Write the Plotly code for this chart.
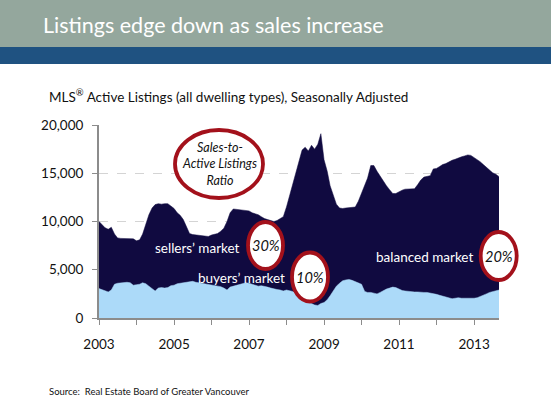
import pandas as pd
import plotly.graph_objects as go

# Monthly data, Jan 2003 - Sep 2013
months = pd.date_range("2003-01-01", "2013-09-01", freq="MS")

active_listings = [
    10000, 9700, 9350, 9200, 9400, 8700, 8300, 8250, 8250, 8250, 8250, 8200,  # 2003
    8000, 8100, 8700, 9700, 10700, 11400, 11750, 11850, 11800, 11850, 11850, 11600,  # 2004
    11350, 10900, 10650, 10200, 9400, 8750, 8650, 8600, 8600, 8550, 8500, 8450,  # 2005
    8600, 8700, 8750, 9000, 9300, 10000, 10900, 11300, 11250, 11200, 11200, 11150,  # 2006
    11100, 10900, 10800, 10700, 10500, 10300, 10200, 10100, 10000, 10100, 10300, 10500,  # 2007
    11500, 12700, 14000, 15300, 16400, 17400, 17700, 17300, 17900, 17500, 18000, 19100,  # 2008
    16400, 15200, 13700, 12600, 11800, 11400, 11350, 11400, 11450, 11500, 11500, 12100,  # 2009
    12900, 13700, 14500, 15800, 15800, 15200, 14700, 14100, 13700, 13300, 12900, 12900,  # 2010
    13100, 13250, 13350, 13380, 13350, 13400, 13800, 14300, 14600, 14650, 14750, 15450,  # 2011
    15500, 15700, 15900, 16000, 16200, 16350, 16450, 16600, 16700, 16800, 16900, 16850,  # 2012
    16650, 16450, 16200, 15900, 15600, 15250, 15050, 14900, 14650,  # 2013
]

sales = [
    3050, 2950, 2850, 2700, 2900, 3500, 3600, 3650, 3650, 3700, 3650, 3400,
    3450, 3500, 3650, 3550, 3300, 3000, 2800, 3100, 3150, 3100, 3150, 3350,
    3400, 3550, 3600, 3700, 3750, 3800, 3800, 3700, 3650, 3600, 3550, 3500,
    3450, 3350, 3300, 3250, 3100, 2900, 3200, 3300, 3400, 3450, 3550, 3650,
    3600, 3500, 3400, 3300, 3350, 3300, 3200, 3100, 3000, 2950, 2900, 2800,
    2900, 2850, 2750, 2600, 2400, 2200, 2000, 1800, 1500, 1350, 1300, 1500,
    1600, 1900, 2300, 2800, 3300, 3600, 3850, 3950, 4000, 3900, 3750, 3600,
    3500, 2750, 2650, 2650, 2600, 2500, 2650, 2850, 3000, 3100, 3200, 3150,
    3000, 2850, 2800, 2750, 2750, 2700, 2700, 2650, 2650, 2650, 2600, 2550,
    2450, 2350, 2250, 2150, 2050, 2000, 2050, 2100, 2050, 2050, 2000, 2000,
    2050, 2100, 2200, 2350, 2500, 2650, 2750, 2850, 2900,
]

year_ticks = ["2003-01-01", "2005-01-01", "2007-01-01", "2009-01-01", "2011-01-01", "2013-01-01"]
year_labels = ["2003", "2005", "2007", "2009", "2011", "2013"]

# ratio bubbles: label, sales-to-active ratio
market_labels = ["sellers\u2019 market", "buyers\u2019 market", "balanced market"]
market_ratios = ["30%", "10%", "20%"]

W, H = 551, 409
PL, PR, PT, PB = 99, 499, 125, 318
FONT = "Lato"


def px(x):
    return (x - PL) / (PR - PL)


def py(y):
    return (PB - y) / (PB - PT)


fig = go.Figure()
fig.add_trace(go.Scatter(
    x=months, y=active_listings, mode="lines", fill="tozeroy",
    line=dict(color="#100a40", width=0.5), fillcolor="#100a40",
    hoverinfo="x+y",
))
fig.add_trace(go.Scatter(
    x=months, y=sales, mode="lines", fill="tozeroy",
    line=dict(color="#acdaf9", width=0.5), fillcolor="#acdaf9",
    hoverinfo="x+y",
))

shapes = [
    # header bands
    dict(type="rect", xref="paper", yref="paper", x0=px(0), x1=px(W), y0=py(47), y1=py(0),
         fillcolor="#94a79d", line_width=0, layer="above"),
    dict(type="rect", xref="paper", yref="paper", x0=px(0), x1=px(W), y0=py(64), y1=py(47),
         fillcolor="#1f5281", line_width=0, layer="above"),
]

# ellipses (cx, cy, rx, ry) in pixels
bubbles = [(219, 164, 44, 34), (265.5, 245.5, 17.5, 23.5), (310, 277, 18, 24.5), (498.7, 256, 18, 24)]
for cx, cy, rx, ry in bubbles:
    shapes.append(dict(type="circle", xref="paper", yref="paper",
                       x0=px(cx - rx), x1=px(cx + rx), y0=py(cy + ry), y1=py(cy - ry),
                       fillcolor="white", line=dict(color="#a3111b", width=3.8), layer="above"))

annotations = [
    dict(text="Listings edge down as sales increase", x=px(41), y=py(25), xanchor="left", yanchor="middle",
         font=dict(family=FONT, size=21.5, color="white")),
    dict(text="MLS<sup>\u00ae</sup> Active Listings (all dwelling types), Seasonally Adjusted",
         x=px(47), y=py(96), xanchor="left", yanchor="middle",
         font=dict(family=FONT, size=13.5, color="#111111")),
    dict(text="Source:  Real Estate Board of Greater Vancouver", x=px(47), y=py(391),
         xanchor="left", yanchor="middle", font=dict(family=FONT, size=9.5, color="#111111")),
    dict(text="<i>Sales-to-<br>Active Listings<br>Ratio</i>", x=px(219), y=py(164),
         xanchor="center", yanchor="middle", font=dict(family=FONT, size=12.5, color="#111111")),
]
for (cx, cy, rx, ry), r in zip(bubbles[1:], market_ratios):
    annotations.append(dict(text=f"<i>{r}</i>", x=px(cx), y=py(cy), xanchor="center", yanchor="middle",
                            font=dict(family=FONT, size=14.5, color="#111111")))
for lab, (xr, yc) in zip(market_labels, [(242, 248), (287, 278), (475, 257)]):
    annotations.append(dict(text=lab, x=px(xr), y=py(yc), xanchor="right", yanchor="middle",
                            font=dict(family=FONT, size=13.5, color="white")))
for a in annotations:
    a.update(xref="paper", yref="paper", showarrow=False)

fig.update_layout(
    width=W, height=H,
    margin=dict(l=PL, r=W - PR, t=PT, b=H - PB),
    paper_bgcolor="white", plot_bgcolor="white",
    showlegend=False,
    shapes=shapes, annotations=annotations,
    font=dict(family=FONT, size=13, color="#111111"),
)
fig.update_xaxes(
    type="date", range=[months[0], months[-1]],
    tickvals=year_ticks, ticktext=year_labels,
    ticks="outside", ticklen=5, tickcolor="#8c8c8c", tickwidth=1,
    minor=dict(dtick="M12", tick0="2003-01-01", ticks="outside", ticklen=5,
               tickcolor="#8c8c8c", tickwidth=1, showgrid=False),
    showline=True, linecolor="#8c8c8c", linewidth=2,
    showgrid=False, zeroline=False,
    tickfont=dict(family=FONT, size=13.5, color="#111111"), ticklabelstandoff=8,
)
fig.update_yaxes(
    range=[0, 20000], tickvals=[0, 5000, 10000, 15000, 20000], tickformat=",d",
    ticks="outside", ticklen=5, tickcolor="#8c8c8c", tickwidth=1,
    showline=True, linecolor="#8c8c8c", linewidth=2,
    showgrid=True, gridcolor="#d4d4d4", griddash="dash", gridwidth=1,
    zeroline=False,
    tickfont=dict(family=FONT, size=13.5, color="#111111"), ticklabelstandoff=6,
)

fig.write_html("out.html", config={"displayModeBar": False},
               post_script="document.body.style.margin='0';")
